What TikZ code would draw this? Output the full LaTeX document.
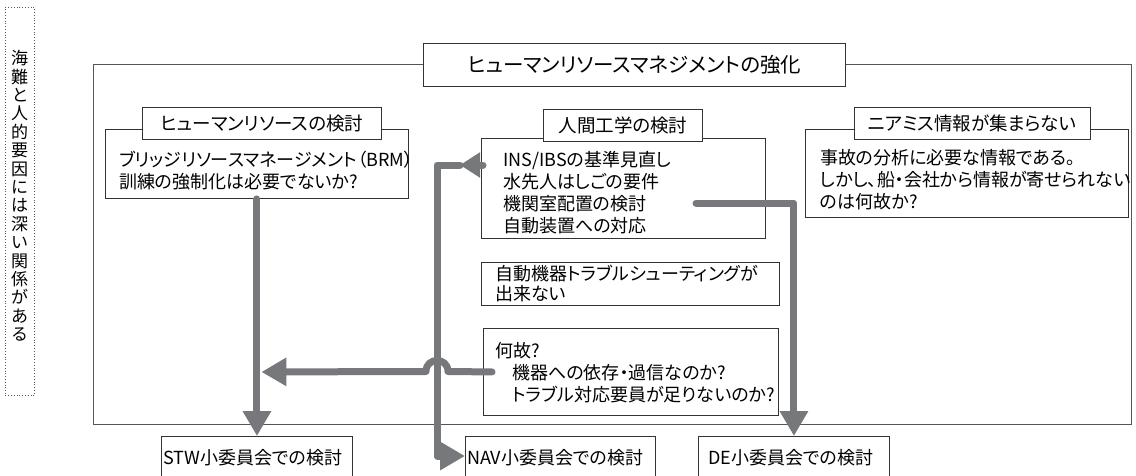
\documentclass[tikz,border=0pt]{standalone}
\usepackage{fontspec}
\setmainfont{Noto Sans CJK JP}[RawFeature=+palt]
\usetikzlibrary{arrows.meta,calc}
\definecolor{cgray}{HTML}{77787B}
\definecolor{bline}{HTML}{333333}
\definecolor{fline}{HTML}{555555}
\begin{document}
\begin{tikzpicture}[x=1pt,y=-1pt,
  box/.style={draw=bline,line width=0.9pt,fill=white,inner sep=0pt},
  hdr/.style={box,font=\fontsize{18.5}{22}\selectfont,inner sep=0pt},
  txt/.style={font=\fontsize{18}{22}\selectfont,align=left,inner sep=0pt,anchor=west},
  conn/.style={draw=cgray,line width=7pt,line cap=round,line join=round},
  tip/.style={-{Triangle[width=27pt,length=25pt]}}
]
\useasboundingbox (0,0) rectangle (1136,475);
\clip (0,0) rectangle (1136,475);
\fill[white] (0,0) rectangle (1136,475);

% left vertical note
\node[draw=fline,dotted,line width=0.8pt,anchor=north west,minimum width=29pt,minimum height=388pt,inner sep=0pt] (note) at (5,7) {};
\node[font=\fontsize{17}{18.4}\selectfont,align=center,inner sep=0pt] (notet) at (19.5,196)
 {海\\難\\と\\人\\的\\要\\因\\に\\は\\深\\い\\関\\係\\が\\あ\\る};

% outer frame
\node[draw=fline,line width=1.1pt,anchor=north west,minimum width=1038pt,minimum height=360pt,inner sep=0pt] (frame) at (93,64) {};
\node[box,anchor=north west,minimum width=422pt,minimum height=43pt] (title) at (423,43) {};
\node[font=\fontsize{20.5}{24}\selectfont,inner sep=0pt] (titlet) at (title.center) {ヒューマンリソースマネジメントの強化};

% human resource panel
\node[box,anchor=north west,minimum width=303pt,minimum height=69pt] (hrC) at (105,129) {};
\node[box,anchor=north west,minimum width=239pt,minimum height=32pt] (hrH) at (142,107) {};
\node[hdr,draw=none,fill=none] (hrHt) at (hrH.center) {ヒューマンリソースの検討};
\node[txt] (hrT) at (119,171) {ブリッジリソースマネージメント（BRM）\\訓練の強制化は必要でないか?};

% ergonomics panel
\node[box,anchor=north west,minimum width=284pt,minimum height=100pt] (heC) at (481,138) {};
\node[box,anchor=north west,minimum width=159pt,minimum height=32pt] (heH) at (543,109) {};
\node[hdr,draw=none,fill=none] (heHt) at (heH.center) {人間工学の検討};
\node[txt] (heT) at (503,192.5) {INS/IBSの基準見直し\\水先人はしごの要件\\機関室配置の検討\\自動装置への対応};

% near miss panel
\node[box,anchor=north west,minimum width=323pt,minimum height=88pt] (nmC) at (805,129) {};
\node[box,anchor=north west,minimum width=236pt,minimum height=32pt] (nmH) at (854,107) {};
\node[hdr,draw=none,fill=none] (nmHt) at (nmH.center) {ニアミス情報が集まらない};
\node[txt] (nmT) at (820,179.5) {事故の分析に必要な情報である。\\しかし、船・会社から情報が寄せられない\\のは何故か?};

% automation trouble
\node[box,anchor=north west,minimum width=298pt,minimum height=43pt] (auto) at (481,262) {};
\node[txt,font=\fontsize{18}{20}\selectfont] (autoT) at (495,283) {自動機器トラブルシューティングが\\出来ない};

% why box
\node[box,anchor=north west,minimum width=295pt,minimum height=87pt] (why) at (483,328) {};
\node[txt] (whyT) at (495,372.5) {何故?\\\hspace{17pt}機器への依存・過信なのか?\\\hspace{17pt}トラブル対応要員が足りないのか?};

% bottom committee boxes
\node[box,anchor=north west,minimum width=191pt,minimum height=60pt] (stw) at (161,436) {};
\node[txt] (stwT) at (163,458) {STW小委員会での検討};
\node[box,anchor=north west,minimum width=190pt,minimum height=60pt] (nav) at (465,436) {};
\node[txt] (navT) at (467,458) {NAV小委員会での検討};
\node[box,anchor=north west,minimum width=191pt,minimum height=60pt] (de) at (698,436) {};
\node[txt] (deT) at (708,458) {DE小委員会での検討};

% connectors
\coordinate (n0) at ($(heC.west |- 0,165)+(2,0)$);
\coordinate (n1) at (460,165);
\coordinate (nc) at (437,165);
\coordinate (nb) at (437,456);
\coordinate (d0) at (696,203);
\coordinate (w0) at ($(why.west)+(9,0)$);
\coordinate (w1) at ($(hrC.south |- why.west)+(4.5,0)$);

\draw[conn,tip] (hrC.south) -- (stw.north);
\draw[conn,-{Triangle[width=24pt,length=20pt]}] (n0) -- (n1);
\draw[conn,tip] (n1) -- (nc) -- (nb) -- (nav.west |- nb);
\draw[conn,tip] (d0) -- (d0 -| de.north) -- (de.north);
\draw[conn,tip] (w0) -- (448,371.5) .. controls (448,356.8) and (426,356.8) .. (426,371.5) -- (w1);
\end{tikzpicture}
\end{document}
